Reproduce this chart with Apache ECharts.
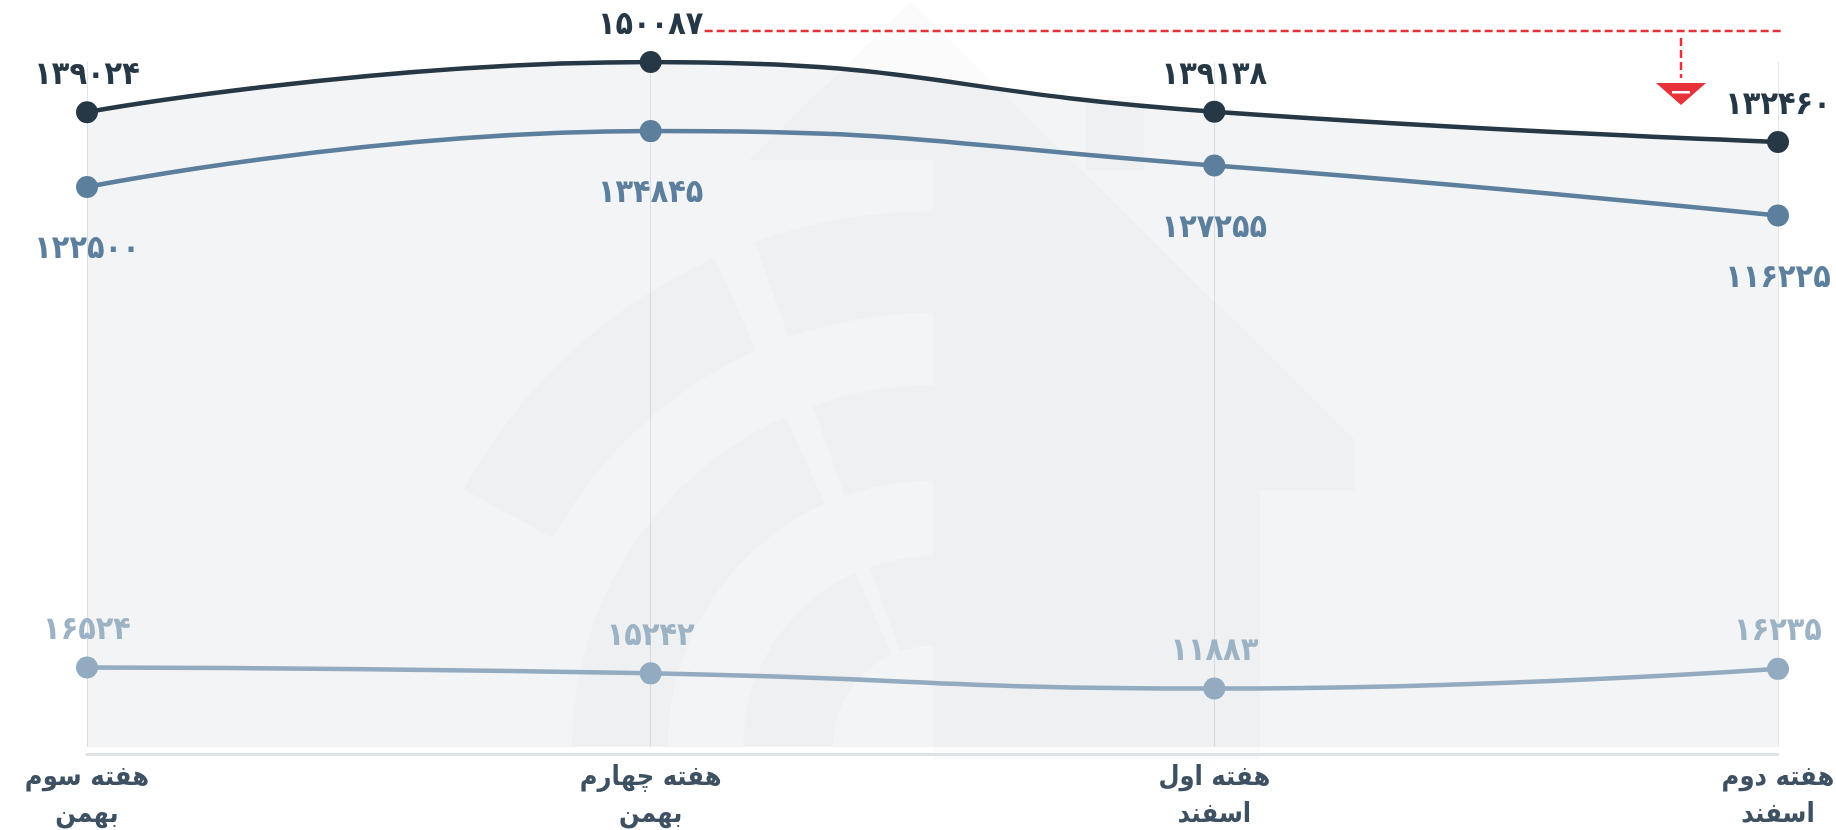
<!DOCTYPE html>
<html>
<head>
<meta charset="utf-8">
<script src="https://cdn.jsdelivr.net/npm/echarts@6/dist/echarts.min.js"></script>
<style>
  html, body { margin: 0; padding: 0; background: #fff; }
  #main { width: 1836px; height: 830px; }
</style>
</head>
<body>
<div id="main"></div>
<script>
var categories = ['هفته سوم\nبهمن', 'هفته چهارم\nبهمن', 'هفته اول\nاسفند', 'هفته دوم\nاسفند'];
var totalValues = [139024, 150087, 139138, 132460];
var mainValues = [122500, 134845, 127255, 116225];
var minorValues = [16524, 15242, 11883, 16235];

var FONT = 'DejaVu Sans Condensed, DejaVu Sans';
var faDigits = '۰۱۲۳۴۵۶۷۸۹';
function toFa(v) {
  return String(v).replace(/[0-9]/g, function (d) { return faDigits[+d]; });
}

var chartDom = document.getElementById('main');
var myChart = echarts.init(chartDom);

function lineSeries(name, data, color, labelColor, pos, dist, area) {
  var s = {
    name: name,
    type: 'line',
    smooth: true,
    data: data,
    symbol: 'circle',
    symbolSize: 22,
    showAllSymbol: true,
    lineStyle: { color: color, width: 4.5 },
    itemStyle: { color: color },
    label: {
      show: true,
      position: pos,
      distance: dist,
      color: labelColor,
      fontFamily: FONT,
      fontWeight: 'bold',
      fontSize: 32,
      lineHeight: 32,
      formatter: function (p) { return toFa(p.value); }
    },
    emphasis: { disabled: true }
  };
  if (area) {
    s.areaStyle = { color: '#263746', opacity: 0.055, origin: 'start' };
  }
  return s;
}

var option = {
  animation: false,
  grid: { left: 87, right: 58, top: 62, bottom: 83, outerBoundsMode: 'none' },
  xAxis: {
    type: 'category',
    data: categories,
    boundaryGap: false,
    offset: 7,
    axisLine: { onZero: false, lineStyle: { color: '#dde3e8', width: 3 } },
    axisTick: { show: false },
    splitLine: { show: true, lineStyle: { color: '#e4e7ea', width: 1 } },
    axisLabel: {
      color: '#3d5162',
      fontFamily: FONT,
      fontWeight: 'bold',
      fontSize: 27,
      lineHeight: 37,
      margin: 5
    }
  },
  yAxis: {
    type: 'value',
    min: -1000,
    max: 'dataMax',
    show: false,
    splitLine: { show: false }
  },
  series: [
    lineSeries('total', totalValues, '#263746', '#263746', 'top', 9, true),
    lineSeries('main', mainValues, '#5b7f9c', '#5b7f9c', 'bottom', 36, false),
    lineSeries('minor', minorValues, '#92abc0', '#9cb2c5', 'top', 10, false)
  ]
};

myChart.setOption(option);

// faint logo watermark behind the plot
var wm = 'rgba(38,55,70,0.018)';
var cx = 933, cy = 746;
var watermark = [
  {
    type: 'polygon', z: 0, silent: true,
    shape: { points: [[911, 2], [1355, 440], [1355, 490], [1260, 490], [1260, 760], [933, 760], [933, 160], [749, 160]] },
    style: { fill: wm }
  },
  {
    type: 'rect', z: 0, silent: true,
    shape: { x: 1086, y: 96, width: 58, height: 74 },
    style: { fill: wm }
  }
];
[[433, 535, Math.PI + 0.5], [265, 361, Math.PI], [100, 190, Math.PI]].forEach(function (ring) {
  watermark.push({
    type: 'sector', z: 0, silent: true,
    shape: { cx: cx, cy: cy, r0: ring[0], r: ring[1], startAngle: ring[2], endAngle: Math.PI * 1.5 - 0.42 },
    style: { fill: wm }
  });
  watermark.push({
    type: 'sector', z: 0, silent: true,
    shape: { cx: cx, cy: cy, r0: ring[0], r: ring[1], startAngle: Math.PI * 1.5 - 0.34, endAngle: Math.PI * 1.5 },
    style: { fill: wm }
  });
});

// decline marker: dashed line from the peak label to the last week
var maxIdx = totalValues.indexOf(Math.max.apply(null, totalValues));
var lastIdx = totalValues.length - 1;
var pMax = myChart.convertToPixel({ seriesIndex: 0 }, [maxIdx, totalValues[maxIdx]]);
var pLast = myChart.convertToPixel({ seriesIndex: 0 }, [lastIdx, totalValues[lastIdx]]);
var hy = pMax[1] - 31;
var vx = pLast[0] - 97;
var red = '#e8323a';
var marker = [
  {
    type: 'line', z: 10,
    shape: { x1: pMax[0] + 54, y1: hy, x2: pLast[0] + 4, y2: hy },
    style: { stroke: red, lineWidth: 2.5, lineDash: [8, 4] }
  },
  {
    type: 'line', z: 10,
    shape: { x1: vx, y1: hy + 7, x2: vx, y2: hy + 47 },
    style: { stroke: red, lineWidth: 2.5, lineDash: [8, 4] }
  },
  {
    type: 'polygon', z: 10,
    shape: { points: [[vx - 25, hy + 52], [vx + 25, hy + 52], [vx, hy + 74]] },
    style: { fill: red }
  },
  {
    type: 'rect', z: 11,
    shape: { x: vx - 9, y: hy + 60, width: 18, height: 2.5 },
    style: { fill: '#fff' }
  }
];

myChart.setOption({ graphic: watermark.concat(marker) });
</script>
</body>
</html>
